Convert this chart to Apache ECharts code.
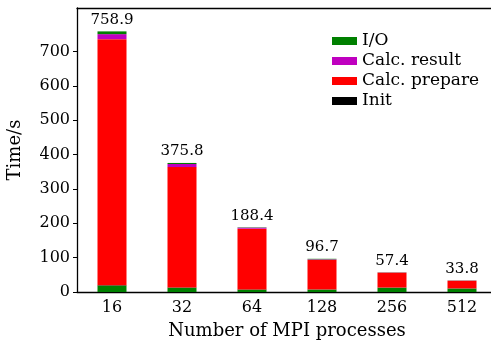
<!DOCTYPE html>
<html>
<head>
<meta charset="utf-8">
<script src="https://cdn.jsdelivr.net/npm/echarts@6/dist/echarts.min.js"></script>
<style>html,body{margin:0;padding:0;background:#fff}#c{width:491px;height:345px}</style>
</head>
<body>
<div id="c"></div>
<script>
const categories = ['16', '32', '64', '128', '256', '512'];
const ioRead = [19.0, 12.5, 7.0, 7.0, 12.5, 10.0];
const init = [1.0, 0.8, 0.6, 0.5, 0.5, 0.5];
const calcPrepare = [716.3, 350.5, 176.8, 86.2, 43.4, 22.3];
const calcResult = [14.6, 9.0, 3.0, 1.5, 0.5, 0.5];
const ioWrite = [8.0, 3.0, 1.0, 1.5, 0.5, 0.5];
const totals = ['758.9', '375.8', '188.4', '96.7', '57.4', '33.8'];
const yTicks = [0, 100, 200, 300, 400, 500, 600, 700];

const FONT = 'DejaVu Serif';
const chart = echarts.init(document.getElementById('c'));
const bw = 29;
function bar(name, data, color, extra) {
  return Object.assign({
    name: name, type: 'bar', stack: 't', data: data, barWidth: bw,
    itemStyle: { color: color }, emphasis: { disabled: true }, animation: false
  }, extra || {});
}
chart.setOption({
  animation: false,
  textStyle: { fontFamily: FONT },
  grid: { left: 77, top: 8, width: 420, bottom: 53, outerBoundsMode: 'none', containLabel: false },
  legend: {
    data: ['I/O', 'Calc. result', 'Calc. prepare', 'Init'],
    orient: 'vertical', left: 327, top: 26,
    icon: 'rect', itemWidth: 25, itemHeight: 8, itemGap: 0, itemStyle: { borderWidth: 0 },
    textStyle: { fontFamily: FONT, fontSize: 17, color: '#000', lineHeight: 20 }
  },
  xAxis: [{
    type: 'category', data: categories,
    axisLine: { lineStyle: { color: '#000', width: 1.3 } },
    axisTick: { show: false },
    axisLabel: { fontFamily: FONT, fontSize: 16, color: '#000', margin: 8 },
    name: 'Number of MPI processes', nameLocation: 'middle', nameGap: 30,
    nameTextStyle: { fontFamily: FONT, fontSize: 18, color: '#000' }
  }, {
    type: 'category', data: categories, position: 'top',
    axisLine: { lineStyle: { color: '#000', width: 1.3 } },
    axisTick: { show: false }, axisLabel: { show: false }
  }],
  yAxis: {
    type: 'value', min: 0, max: 827,
    axisLine: { show: true, lineStyle: { color: '#000', width: 1.3 } },
    axisTick: { show: true, length: 4, lineStyle: { color: '#000' }, customValues: yTicks },
    axisLabel: { fontFamily: FONT, fontSize: 16, color: '#000', margin: 7, customValues: yTicks },
    splitLine: { show: false },
    name: 'Time/s', nameLocation: 'middle', nameGap: 53,
    nameTextStyle: { fontFamily: FONT, fontSize: 18, color: '#000' }
  },
  series: [
    bar('I/O', ioRead, '#008000'),
    bar('Init', init, '#000000'),
    bar('Calc. prepare', calcPrepare, '#ff0000'),
    bar('Calc. result', calcResult, '#bf00bf'),
    bar('I/O', ioWrite, '#008000', {
      label: {
        show: true, position: 'top', distance: 4,
        fontFamily: FONT, fontSize: 15, color: '#000',
        formatter: p => totals[p.dataIndex]
      }
    })
  ]
});
</script>
</body>
</html>
